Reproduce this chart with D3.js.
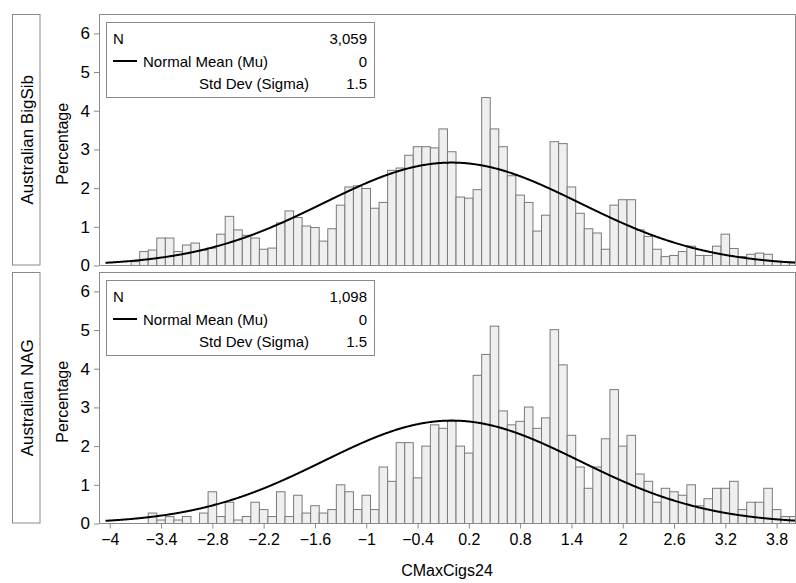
<!DOCTYPE html>
<html><head><meta charset="utf-8">
<script src="https://cdn.jsdelivr.net/npm/d3@7"></script>
<style>
body{margin:0;background:#fff}
svg{display:block}
text{font-family:"Liberation Sans",Arial,Helvetica,sans-serif;fill:#000}
</style>
</head><body>
<svg id="c" width="796" height="583"></svg>
<script>
// ---- data ----
const binCenters = [-3.7,-3.6,-3.5,-3.4,-3.3,-3.2,-3.1,-3.0,-2.9,-2.8,-2.7,-2.6,-2.5,-2.4,-2.3,-2.2,-2.1,-2.0,
  -1.9,-1.8,-1.7,-1.6,-1.5,-1.4,-1.3,-1.2,-1.1,-1.0,-0.9,-0.8,-0.7,-0.6,-0.5,-0.4,-0.3,-0.2,-0.1,
  0.0,0.1,0.2,0.3,0.4,0.5,0.6,0.7,0.8,0.9,1.0,1.1,1.2,1.3,1.4,1.5,1.6,1.7,1.8,1.9,
  2.0,2.1,2.2,2.3,2.4,2.5,2.6,2.7,2.8,2.9,3.0,3.1,3.2,3.3,3.4,3.5,3.6,3.7,3.8,3.9,4.0];
const bigSibPct = [0.10,0.36,0.40,0.71,0.71,0.36,0.53,0.58,0.40,0.45,0.81,1.27,0.92,0.78,0.71,0.42,0.45,1.10,
  1.41,1.24,1.02,0.98,0.63,0.95,1.56,2.03,2.06,1.99,1.48,1.63,2.46,2.52,2.85,3.07,3.07,3.04,3.53,
  2.94,1.77,1.74,1.96,4.34,3.53,3.07,2.32,1.82,1.63,0.89,1.30,3.20,3.15,2.03,1.35,0.95,0.84,0.42,1.56,
  1.70,1.70,0.92,0.75,0.42,0.23,0.26,0.36,0.50,0.26,0.26,0.50,0.81,0.44,0.23,0.29,0.32,0.29,0.10,0.09,0.09];
const nagPct = [0,0,0.27,0.09,0.18,0.09,0.18,0,0.27,0.82,0.18,0.55,0.09,0.18,0.55,0.36,0.18,0.82,
  0.18,0.73,0.27,0.46,0.27,0.36,1.00,0.82,0.36,0.73,0.36,1.46,1.09,2.09,2.09,1.18,2.00,2.55,2.46,
  2.64,2.00,1.82,3.83,4.37,5.10,2.91,2.55,2.64,3.01,2.46,2.73,5.01,4.10,2.28,1.46,0.91,1.46,2.19,3.46,
  2.00,2.28,1.28,1.09,0.55,0.91,0.82,0.73,1.00,0.46,0.64,0.91,0.91,1.09,0.36,0.55,0.55,0.91,0.36,0.18,0.18];
const panelNames = ["Australian BigSib","Australian NAG"];
const panelN = ["3,059","1,098"];
const normalMu = [0,0];
const normalSigma = [1.5,1.5];
const xTicks = [-4,-3.4,-2.8,-2.2,-1.6,-1,-0.4,0.2,0.8,1.4,2,2.6,3.2,3.8];
const yTicks = [0,1,2,3,4,5,6];
const binWidth = 0.1;

// ---- layout ----
const svg = d3.select("#c");
const L = 99, R = 795;
const panelTops = [14, 272];
const PH = 251.5;
const x = d3.scaleLinear().domain([-4.126, 4.015]).range([L, R]);
const frameCol = "#8a8a8a";
const fmt = v => (v < 0 ? "\u2212" : "") + Math.abs(v);

const datasets = [bigSibPct, nagPct];

svg.append("defs").selectAll("clipPath").data(panelTops).join("clipPath")
  .attr("id", (d,i) => "clip"+i)
  .append("rect").attr("x", L).attr("y", d => d).attr("width", R-L).attr("height", PH);

panelTops.forEach((top, i) => {
  const base = top + PH;
  const y = d3.scaleLinear().domain([0, 6.5]).range([base, top]);
  const g = svg.append("g");

  // row header box
  g.append("rect").attr("x", 12.5).attr("y", top + 0.5).attr("width", 27.5).attr("height", PH - 1)
    .attr("fill", "#fff").attr("stroke", frameCol);
  g.append("text").attr("transform", `translate(32.5,${top + PH/2}) rotate(-90)`)
    .attr("text-anchor", "middle").style("font-size", "17px").text(panelNames[i]);

  // y axis label
  g.append("text").attr("transform", `translate(68,${top + PH/2 + 4}) rotate(-90)`)
    .attr("text-anchor", "middle").style("font-size", "16px").text("Percentage");

  // bars
  const bars = binCenters.map((c, k) => ({c, v: datasets[i][k]})).filter(d => d.v > 0);
  g.append("g").attr("clip-path", `url(#clip${i})`).selectAll("rect").data(bars).join("rect")
    .attr("x", d => x(d.c - binWidth/2))
    .attr("width", d => x(d.c + binWidth/2) - x(d.c - binWidth/2))
    .attr("y", d => y(d.v))
    .attr("height", d => base - y(d.v))
    .attr("fill", "#efefef").attr("stroke", "#7a7a7a").attr("stroke-width", 1);

  // normal curve
  const mu = normalMu[i], sd = normalSigma[i];
  const pdf = t => 100 * binWidth * Math.exp(-0.5 * ((t - mu)/sd)**2) / (sd * Math.sqrt(2*Math.PI));
  const pts = d3.range(-4.05, 4.0501, 0.01).map(t => [t, pdf(t)]);
  g.append("path").attr("clip-path", `url(#clip${i})`).datum(pts)
    .attr("d", d3.line().x(d => x(d[0])).y(d => y(d[1])))
    .attr("fill", "none").attr("stroke", "#000").attr("stroke-width", 2);

  // frame
  g.append("rect").attr("x", L + 0.5).attr("y", top + 0.5).attr("width", R - L).attr("height", PH - 0.5)
    .attr("fill", "none").attr("stroke", frameCol);

  // y axis
  const ya = g.append("g").attr("transform", `translate(${L},0)`)
    .call(d3.axisLeft(y).tickValues(yTicks).tickSize(5).tickPadding(4).tickFormat(d3.format("d")));
  ya.select(".domain").remove();
  ya.selectAll(".tick line").attr("stroke", frameCol);
  ya.selectAll(".tick text").style("font-size", "17px").attr("fill", "#000");

  // legend inset
  const lx = 106, ly = top + 8;
  const lg = g.append("g");
  lg.append("rect").attr("x", lx + 0.5).attr("y", ly + 0.5).attr("width", 268).attr("height", 75)
    .attr("fill", "#fff").attr("stroke", frameCol);
  const fs = "15px";
  lg.append("text").attr("x", 113).attr("y", ly + 22).style("font-size", fs).text("N");
  lg.append("text").attr("x", 367).attr("y", ly + 22).attr("text-anchor", "end").style("font-size", fs).text(panelN[i]);
  lg.append("line").attr("x1", 113).attr("x2", 137).attr("y1", ly + 39).attr("y2", ly + 39)
    .attr("stroke", "#000").attr("stroke-width", 2);
  lg.append("text").attr("x", 143).attr("y", ly + 45).style("font-size", fs).text("Normal Mean (Mu)");
  lg.append("text").attr("x", 367).attr("y", ly + 45).attr("text-anchor", "end").style("font-size", fs).text(String(mu));
  lg.append("text").attr("x", 309).attr("y", ly + 67).attr("text-anchor", "end").style("font-size", fs).text("Std Dev (Sigma)");
  lg.append("text").attr("x", 367).attr("y", ly + 67).attr("text-anchor", "end").style("font-size", fs).text(String(sd));

  if (i === 1) {
    const xa = g.append("g").attr("transform", `translate(0,${base})`)
      .call(d3.axisBottom(x).tickValues(xTicks).tickSize(5).tickPadding(5).tickFormat(fmt));
    xa.select(".domain").remove();
    xa.selectAll(".tick line").attr("stroke", frameCol);
    xa.selectAll(".tick text").style("font-size", "16px").attr("fill", "#000");
    g.append("text").attr("x", (L + R)/2).attr("y", 576).attr("text-anchor", "middle")
      .style("font-size", "16px").text("CMaxCigs24");
  }
});
</script>
</body></html>
